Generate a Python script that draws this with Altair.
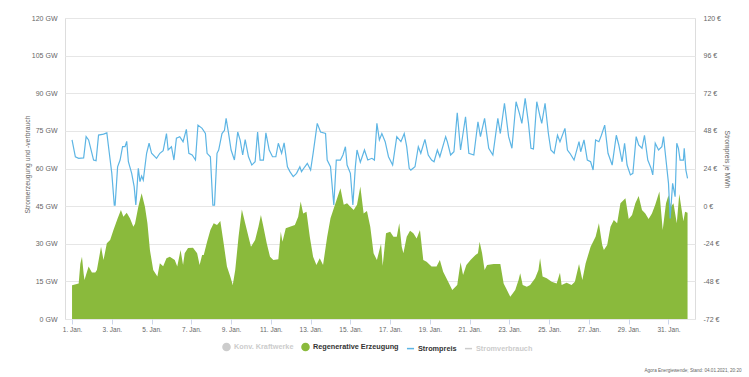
import json
import altair as alt
import pandas as pd

# ---- data (hours since 1 Jan 00:00) ----
gen_hour = [0, 8, 10, 12, 14, 15, 20, 24, 28, 30, 35, 38, 42, 46, 50, 55, 59, 62, 66, 70, 74, 76, 80, 84, 88, 91, 94,
            98, 103, 106, 110, 114, 118, 124, 127, 131, 134, 136, 140, 146, 151, 154, 157, 159, 163, 167, 171, 175,
            179, 183, 187, 191, 194, 197, 201, 205, 209, 213, 216, 221, 225, 228, 231, 235, 239, 243, 249, 252, 254,
            258, 263, 269, 273, 276, 279, 283, 287, 291, 295, 299, 303, 308, 312, 318, 324, 328, 332, 336, 340, 344,
            348, 352, 356, 360, 364, 368, 373, 375, 379, 384, 388, 392, 395, 398, 400, 404, 408, 412, 416, 420, 424,
            428, 434, 440, 444, 448, 453, 459, 465, 469, 472, 476, 481, 487, 490, 492, 495, 498, 501, 509, 517, 521,
            525, 529, 535, 539, 541, 544, 549, 553, 559, 563, 565, 568, 573, 579, 585, 589, 591, 597, 603, 607, 612,
            616, 620, 626, 632, 636, 640, 642, 646, 650, 654, 658, 662, 668, 672, 676, 680, 684, 688, 692, 696, 700,
            704, 709, 713, 717, 720, 723, 726, 730, 733, 738, 740, 743]
gen_gw = [13.5, 14.2, 22.0, 24.8, 18.0, 15.5, 20.9, 18.5, 18.5, 19.5, 28.8, 23.5, 30.2, 31.5, 35.5, 40.1, 43.5, 40.8,
          42.4, 40.1, 36.8, 38.0, 44.8, 50.1, 44.8, 38.2, 27.5, 19.5, 16.9, 22.2, 21.0, 24.2, 24.8, 23.5, 20.9, 27.5,
          21.5, 26.2, 28.3, 28.4, 26.2, 21.5, 25.5, 25.5, 30.8, 35.5, 38.2, 37.5, 39.1, 30.2, 20.9, 16.9, 13.6, 19.5,
          32.8, 43.7, 38.2, 32.8, 28.8, 31.5, 36.8, 41.5, 36.8, 30.2, 24.8, 23.5, 23.8, 34.8, 30.8, 36.2, 36.8, 37.5,
          40.8, 46.8, 42.1, 42.8, 32.8, 24.8, 21.5, 24.2, 21.5, 32.8, 40.2, 46.1, 52.1, 45.5, 46.1, 44.8, 43.5, 45.5,
          52.8, 42.1, 43.1, 36.8, 26.2, 23.5, 30.0, 21.2, 34.2, 34.8, 32.8, 32.8, 38.2, 28.8, 26.2, 32.8, 35.2, 34.2,
          32.1, 35.5, 23.5, 22.8, 20.9, 20.9, 23.5, 18.8, 15.5, 11.6, 13.6, 22.6, 17.5, 21.5, 23.5, 25.5, 26.2, 30.8,
          26.2, 19.5, 21.5, 21.9, 21.9, 14.2, 11.6, 8.9, 11.6, 15.5, 18.2, 13.6, 12.9, 13.6, 16.2, 19.5, 24.2, 16.9,
          16.2, 14.9, 14.2, 18.4, 13.6, 14.5, 13.6, 14.9, 21.9, 15.5, 22.2, 28.8, 32.8, 38.2, 29.5, 27.5, 29.5, 36.8,
          39.5, 38.2, 46.1, 48.1, 39.9, 41.5, 46.1, 49.0, 43.5, 42.1, 39.9, 42.1, 45.5, 50.8, 35.5, 46.1, 49.3, 44.8,
          46.1, 38.2, 49.8, 39.0, 42.8, 42.4]

price_hour = [0, 4, 8, 14, 17, 20, 22, 26, 29, 32, 38, 42, 45, 48, 51, 52, 55, 58, 61, 64, 66, 68, 72, 75, 77, 80, 82,
              84, 86, 90, 93, 96, 102, 106, 110, 114, 116, 120, 123, 126, 130, 134, 138, 141, 145, 149, 152, 157, 161,
              163, 167, 170, 172, 175, 177, 181, 184, 186, 189, 192, 196, 200, 203, 206, 209, 213, 217, 221, 224, 227,
              231, 234, 238, 242, 246, 249, 253, 256, 260, 263, 267, 271, 275, 277, 281, 284, 288, 291, 296, 300, 306,
              308, 312, 316, 319, 324, 327, 330, 332, 336, 339, 342, 344, 348, 353, 357, 362, 365, 368, 371, 374, 378,
              382, 387, 392, 397, 401, 404, 407, 409, 414, 418, 421, 426, 430, 434, 437, 441, 444, 451, 453, 457, 461,
              465, 469, 475, 479, 485, 490, 493, 498, 503, 508, 514, 517, 522, 527, 531, 536, 540, 543, 547, 551, 554,
              557, 561, 565, 567, 571, 575, 578, 582, 586, 589, 595, 598, 601, 606, 612, 614, 618, 622, 626, 629, 632,
              636, 639, 643, 647, 652, 657, 660, 664, 667, 670, 674, 677, 681, 684, 688, 691, 695, 699, 701, 704, 708,
              712, 714, 717, 720, 722, 725, 728, 730, 732, 734, 738, 739, 741, 743]
price_eur = [42.2, 31.5, 30.5, 30.8, 44.3, 42.2, 37.9, 29.4, 29.0, 45.3, 45.9, 46.7, 33.7, 20.9, 0.7, 0.7, 25.1, 29.4,
             37.9, 37.9, 41.3, 28.3, 20.9, 12.4, 0.7, 24.1, 15.6, 19.2, 16.6, 33.7, 40.1, 33.7, 30.5, 33.7, 35.4, 46.3,
             35.8, 37.9, 29.4, 43.3, 44.3, 41.1, 49.0, 33.7, 32.6, 29.4, 51.7, 49.6, 46.3, 33.7, 31.5, 0.7, 0.7, 33.7,
             35.8, 46.3, 48.4, 56.0, 46.3, 35.8, 29.4, 47.3, 42.0, 32.6, 42.4, 31.5, 26.2, 28.3, 47.3, 29.4, 29.4, 46.7,
             35.8, 31.5, 31.5, 40.1, 33.7, 40.3, 25.1, 22.0, 18.8, 20.9, 25.1, 22.0, 25.1, 27.3, 23.0, 33.7, 52.8, 47.3,
             46.3, 29.4, 25.1, 0.7, 29.4, 29.4, 32.6, 37.9, 26.2, 20.9, 0.7, 25.1, 35.8, 28.0, 35.8, 29.4, 30.5, 29.4,
             52.8, 42.2, 46.3, 41.1, 31.5, 26.2, 44.3, 41.1, 46.3, 37.9, 24.1, 23.0, 25.1, 37.9, 33.7, 42.6, 32.6, 29.4,
             28.3, 35.8, 31.5, 44.3, 41.1, 32.6, 34.7, 59.6, 35.8, 57.0, 33.7, 32.6, 53.8, 44.3, 56.0, 36.9, 32.6, 56.0,
             46.3, 65.6, 44.3, 36.9, 66.6, 59.2, 52.8, 68.7, 52.8, 36.9, 36.5, 66.6, 57.0, 52.8, 65.6, 46.3, 35.8, 33.7,
             45.2, 41.1, 49.6, 35.8, 33.7, 29.4, 41.1, 34.7, 42.2, 29.4, 28.3, 23.0, 42.2, 41.1, 45.2, 51.7, 33.7, 26.2,
             45.2, 39.0, 28.3, 40.1, 26.2, 19.9, 20.9, 44.3, 39.0, 36.9, 45.2, 29.4, 24.1, 19.9, 40.1, 35.8, 37.9, 44.3,
             29.4, 14.5, -7.8, 14.5, 6.0, 40.1, 36.9, 29.4, 29.4, 36.9, 23.0, 17.7]

gw_ticks = [0, 15, 30, 45, 60, 75, 90, 105, 120]
eur_ticks = [-72, -48, -24, 0, 24, 48, 72, 96, 120]
x_tick_hours = [0, 48, 96, 144, 192, 240, 288, 336, 384, 432, 480, 528, 576, 624, 672, 720]
x_tick_labels = ["1. Jan.", "3. Jan.", "5. Jan.", "7. Jan.", "9. Jan.", "11. Jan.", "13. Jan.", "15. Jan.",
                 "17. Jan.", "19. Jan.", "21. Jan.", "23. Jan.", "25. Jan.", "27. Jan.", "29. Jan.", "31. Jan."]
legend_names = ["Konv. Kraftwerke", "Regenerative Erzeugung", "Strompreis", "Stromverbrauch"]
legend_colors = ["#cccccc", "#8aba3c", "#5db5e4", "#cccccc"]
legend_shapes = ["circle", "circle", "stroke", "stroke"]
credit = "Agora Energiewende; Stand: 04.01.2021, 20:20"

FONT = "Liberation Sans"

gen_df = pd.DataFrame({"hour": gen_hour, "gw": gen_gw})
price_df = pd.DataFrame({"hour": price_hour, "eur": price_eur})
legend_df = pd.DataFrame({"series": legend_names})

label_lookup = json.dumps(dict(zip([str(h) for h in x_tick_hours], x_tick_labels)), ensure_ascii=False)

x_scale = alt.Scale(domain=[-8.5, 752], nice=False, zero=False)
x_axis = alt.Axis(values=x_tick_hours, labelExpr=f"{label_lookup}[datum.value + '']", title=None,
                  grid=False, domain=False, ticks=True, tickSize=5, tickColor="#ccd6eb",
                  labelPadding=2, labelFontSize=6.5, labelColor="#666666", labelFont=FONT)

area = alt.Chart(gen_df).mark_area(color="#8aba3c", opacity=1, interpolate="linear").encode(
    x=alt.X("hour:Q", scale=x_scale, axis=x_axis),
    y=alt.Y("gw:Q", scale=alt.Scale(domain=[0, 120], nice=False),
            axis=alt.Axis(values=gw_ticks, labelExpr="datum.value + ' GW'", title="Stromerzeugung und -verbrauch",
                          grid=True, gridColor="#e6e6e6", gridWidth=1, domain=False, ticks=False,
                          labelPadding=8, labelFontSize=7, labelColor="#666666", labelFont=FONT,
                          titleFont=FONT, titleFontSize=6.8, titleFontWeight="normal", titleColor="#666666",
                          titleX=-38, titleY=146, titleAngle=-90, titleAlign="center", titleBaseline="middle")),
)

line = alt.Chart(price_df).mark_line(color="#5db5e4", strokeWidth=1.2).encode(
    x=alt.X("hour:Q", scale=x_scale, axis=x_axis),
    y=alt.Y("eur:Q", scale=alt.Scale(domain=[-72, 120], nice=False, zero=False),
            axis=alt.Axis(orient="right", values=eur_ticks, labelExpr="datum.value + ' €'", title="Strompreis je MWh",
                          grid=False, domain=False, ticks=False, labelPadding=8, labelFontSize=7,
                          labelColor="#666666", labelFont=FONT, titleFont=FONT, titleFontSize=6.8,
                          titleFontWeight="normal", titleColor="#666666", titleX=31.5, titleY=141,
                          titleAngle=90, titleAlign="center", titleBaseline="middle")),
)

legend_color_expr = ("indexof(['Konv. Kraftwerke', 'Stromverbrauch'], datum.label) >= 0 ? '#cccccc' : '#333333'")
legend = alt.Legend(orient="none", legendX=157, legendY=324, direction="horizontal", title=None,
                    labelFont=FONT, labelFontSize=7.3, labelFontWeight="bold",
                    labelColor={"expr": legend_color_expr}, symbolSize=50, symbolStrokeWidth=1.5,
                    symbolOpacity=1, columnPadding=4, labelOffset=3, padding=0)

legend_layer = alt.Chart(legend_df).mark_point(opacity=1).encode(
    fill=alt.Fill("series:N", scale=alt.Scale(domain=legend_names, range=legend_colors), legend=legend),
    stroke=alt.Stroke("series:N", scale=alt.Scale(domain=legend_names, range=legend_colors), legend=legend),
    shape=alt.Shape("series:N", scale=alt.Scale(domain=legend_names, range=legend_shapes), legend=legend),
).transform_filter("false")

chart = alt.layer(area, line, legend_layer).resolve_scale(y="independent").properties(
    width=630, height=301,
    autosize=alt.AutoSizeParams(type="none"),
    padding={"left": 65, "top": 18, "right": 54, "bottom": 58},
    title=alt.TitleParams(text=credit, orient="bottom", anchor="end", fontSize=4.6, color="#666666",
                          fontWeight="normal", font=FONT, offset=14, dx=12),
).configure_view(stroke=None).configure(background="white")

chart.save("out.html", embed_options={"renderer": "svg", "actions": False})
